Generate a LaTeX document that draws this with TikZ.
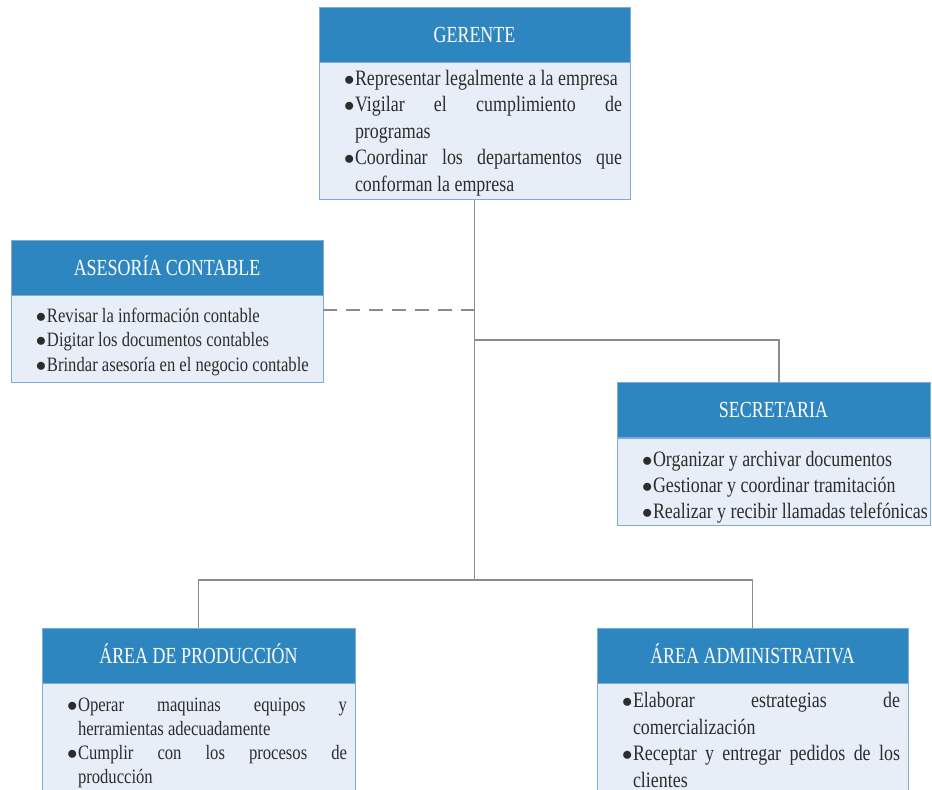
\documentclass[tikz,border=0pt]{standalone}
\usepackage{fontspec}
\setmainfont{Liberation Serif}[FakeStretch=0.78]
\newfontfamily\cuerpofont{Liberation Serif}[FakeStretch=0.815]
\usetikzlibrary{calc}

\definecolor{azulcab}{RGB}{46,134,193}
\definecolor{azulfondo}{RGB}{231,238,248}
\definecolor{azulborde}{RGB}{125,172,215}
\definecolor{gristexto}{RGB}{45,45,45}
\definecolor{grislinea}{RGB}{140,140,140}

\hyphenpenalty=10000
\exhyphenpenalty=10000

%%%%	Viñeta con sangria francesa
\newcommand{\punto}[1]{\hangindent=28pt\hangafter=1\leavevmode\hspace*{17pt}\makebox[11pt][l]{$\bullet$}#1\par}

\begin{document}
\begin{tikzpicture}[x = 1pt, y = -1pt,
	cab/.style = {draw = azulborde, fill = azulcab, text = white, inner sep = 0pt,
		minimum width = #1pt, minimum height = 55pt, text height = 15pt, text depth = 0pt,
		font = \fontsize{23}{26}\selectfont},
	cuerpo/.style n args = {5}{draw = azulborde, fill = azulfondo, text = gristexto, anchor = north,
		inner xsep = 8pt, inner ysep = 0pt, minimum width = #1pt, text width = #1pt - 16pt,
		minimum height = #2pt, text height = #5pt, align = justify,
		font = \cuerpofont\fontsize{#3}{#4}\selectfont},
	linea/.style = {draw = grislinea, line width = 1.3pt}]

\useasboundingbox (0,0) rectangle (932,790);	%%%%	Tamaño de la figura
\clip (0,0) rectangle (932,790);

%%%%%%%%%%%%%%%%%%%%%%%%%%%%%%%%%%%%%%%%%%%%%%%% 	GERENTE
\node[cab = 311] (gerH) at (474.5,34.5) {GERENTE};
\node[cuerpo = {311}{137}{22}{26.5}{19}] (gerB) at (gerH.south) {%
	\punto{Representar legalmente a la empresa}
	\punto{Vigilar el cumplimiento de\linebreak programas}
	\punto{Coordinar los departamentos que\linebreak conforman la empresa}};

%%%%%%%%%%%%%%%%%%%%%%%%%%%%%%%%%%%%%%%%%%%%%%%% 	ASESORIA CONTABLE
\node[cab = 312] (asesH) at (167,267.5) {ASESORÍA CONTABLE};
\node[cuerpo = {312}{87}{20.4}{24.5}{20}] (asesB) at (asesH.south) {%
	\punto{Revisar la información contable}
	\punto{Digitar los documentos contables}
	\punto{\mbox{Brindar asesoría en el negocio contable}}};

%%%%%%%%%%%%%%%%%%%%%%%%%%%%%%%%%%%%%%%%%%%%%%%% 	SECRETARIA
\node[cab = 313] (secH) at (773.5,410) {SECRETARIA};
\node[cuerpo = {313}{87}{22}{26}{26}] (secB) at (secH.south) {%
	\punto{Organizar y archivar documentos}
	\punto{Gestionar y coordinar tramitación}
	\punto{\mbox{Realizar y recibir llamadas telefónicas}}};

%%%%%%%%%%%%%%%%%%%%%%%%%%%%%%%%%%%%%%%%%%%%%%%% 	AREA DE PRODUCCION
\node[cab = 313] (prodH) at (198.5,655.5) {ÁREA DE PRODUCCIÓN};
\node[cuerpo = {313}{112}{20.4}{24}{20}] (prodB) at (prodH.south) {%
	\punto{Operar maquinas equipos y\linebreak herramientas adecuadamente}
	\punto{Cumplir con los procesos de\linebreak producción}};

%%%%%%%%%%%%%%%%%%%%%%%%%%%%%%%%%%%%%%%%%%%%%%%% 	AREA ADMINISTRATIVA
\node[cab = 311] (admH) at (752.5,655.5) {ÁREA ADMINISTRATIVA};
\node[cuerpo = {311}{113}{22}{26.5}{15}] (admB) at (admH.south) {%
	\punto{Elaborar estrategias de\linebreak comercialización}
	\punto{Receptar y entregar pedidos de los\linebreak clientes}};

%%%%%%%%%%%%%%%%%%%%%%%%%%%%%%%%%%%%%%%%%%%%%%%% 	LINEAS
\coordinate (tramo) at (474.5,310);		%%%%	Llegada de la linea punteada
\coordinate (codo) at (779,340);		%%%%	Esquina hacia secretaria
\coordinate (bus) at (474.5,580);		%%%%	Barra de las areas

\draw[linea] (gerB.south) -- (bus);
\draw[linea, dash pattern = on 14pt off 9pt] (asesB.east |- tramo) -- (tramo);
\draw[linea] (gerB.south |- codo) -- (codo) -- (secH.north -| codo);
\draw[linea] (prodH.north) -- (prodH.north |- bus) -- (admH.north |- bus) -- (admH.north);

\end{tikzpicture}
\end{document}
